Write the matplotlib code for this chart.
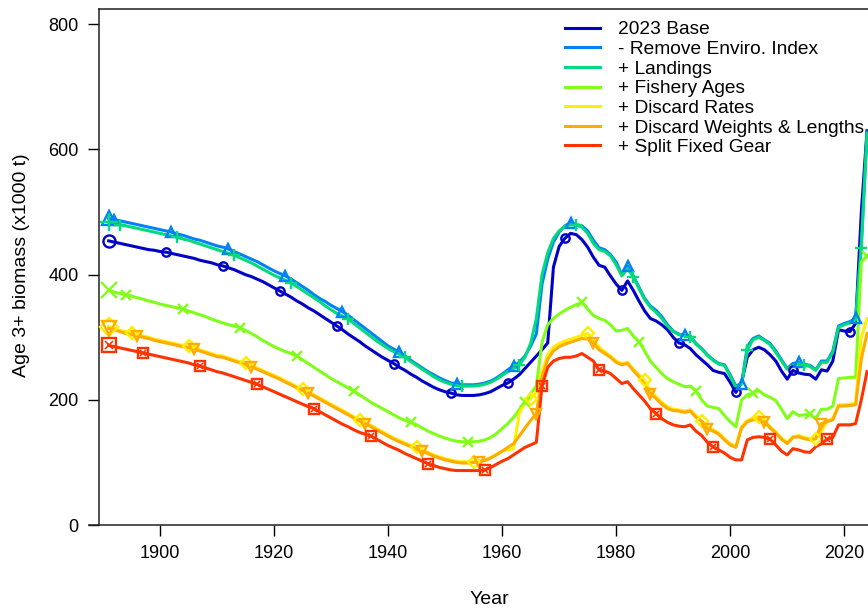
import matplotlib
matplotlib.use("Agg")
import matplotlib.pyplot as plt
import numpy as np

plt.rcParams['font.family'] = ['Liberation Sans', 'DejaVu Sans']

# Age 3+ biomass (x1000 t), one value per year 1891-2024
years = list(range(1891, 2025))

base = [454, 452, 450, 448, 446, 444, 442, 440, 439, 437,
        436, 434, 432, 430, 428, 426, 423, 421, 419, 416,
        414, 411, 408, 404, 400, 397, 393, 389, 384, 379,
        374, 369, 364, 358, 353, 347, 342, 336, 330, 324,
        318, 312, 305, 299, 293, 286, 280, 274, 268, 263,
        258, 252, 247, 241, 236, 230, 225, 220, 216, 213,
        211, 208, 207, 207, 207, 208, 210, 213, 218, 223,
        227, 233, 240, 250, 260, 270, 280, 291, 412, 445,
        458, 466, 464, 456, 444, 428, 415, 412, 398, 385,
        375, 390, 375, 358, 342, 330, 326, 320, 312, 300,
        291, 288, 282, 272, 264, 256, 247, 244, 242, 228,
        212, 228, 268, 280, 284, 280, 272, 262, 246, 233,
        247, 243, 241, 240, 233, 248, 246, 262, 312, 310,
        309, 322, 500, 630]

no_enviro = [490, 488, 486, 484, 482, 480, 478, 476, 474, 472,
             470, 468, 465, 463, 460, 457, 455, 452, 449, 446,
             444, 441, 437, 433, 429, 425, 421, 416, 411, 406,
             402, 398, 393, 387, 381, 375, 368, 362, 357, 351,
             346, 341, 335, 328, 321, 314, 307, 300, 293, 286,
             281, 276, 270, 263, 257, 251, 245, 240, 235, 231,
             227, 226, 224, 224, 224, 225, 227, 230, 235, 241,
             248, 254, 260, 270, 286, 305, 385, 425, 452, 468,
             478, 483, 480, 478, 470, 455, 443, 440, 432, 420,
             400, 414, 398, 380, 362, 350, 343, 333, 320, 310,
             305, 303, 302, 290, 282, 272, 264, 258, 256, 240,
             222, 226, 285, 298, 302, 296, 290, 278, 264, 250,
             258, 260, 257, 255, 248, 262, 262, 278, 318, 322,
             325, 330, 450, 628]

landings = [484, 482, 480, 478, 476, 474, 472, 470, 468, 466,
            464, 462, 460, 457, 455, 452, 449, 446, 443, 440,
            437, 434, 431, 427, 423, 419, 414, 409, 404, 399,
            395, 391, 387, 381, 375, 369, 363, 357, 350, 344,
            338, 334, 329, 322, 315, 308, 301, 294, 288, 282,
            277, 273, 268, 261, 255, 249, 243, 237, 232, 228,
            225, 223, 222, 222, 222, 223, 225, 228, 233, 239,
            245, 250, 256, 268, 290, 330, 400, 435, 458, 470,
            477, 480, 479, 476, 466, 450, 440, 437, 430, 416,
            398, 410, 397, 378, 360, 348, 340, 330, 318, 309,
            304, 302, 301, 289, 281, 271, 263, 257, 255, 238,
            220, 225, 280, 296, 300, 295, 288, 276, 262, 249,
            255, 258, 256, 253, 247, 260, 260, 276, 316, 320,
            323, 328, 443, 625]

fishery_ages = [375, 372, 370, 368, 366, 363, 361, 358, 356, 353,
                351, 349, 347, 345, 342, 339, 336, 333, 329, 326,
                323, 320, 318, 315, 311, 306, 301, 295, 290, 285,
                281, 277, 274, 270, 264, 258, 252, 246, 240, 234,
                229, 224, 219, 214, 208, 202, 196, 191, 186, 181,
                176, 171, 167, 164, 160, 155, 150, 146, 142, 139,
                136, 134, 133, 133, 133, 134, 136, 140, 146, 154,
                162, 172, 184, 197, 210, 222, 292, 320, 330, 337,
                343, 348, 352, 356, 345, 335, 330, 327, 320, 310,
                311, 314, 302, 293, 278, 262, 252, 242, 234, 229,
                225, 221, 222, 214, 200, 190, 188, 186, 175, 165,
                157, 200, 208, 211, 215, 208, 204, 199, 185, 170,
                181, 175, 176, 177, 170, 185, 185, 190, 234, 235,
                236, 236, 420, 430]

discard_rates = [317, 314, 311, 309, 307, 304, 302, 300, 297, 295,
                 293, 291, 289, 287, 286, 283, 280, 277, 274, 271,
                 270, 267, 264, 261, 259, 255, 251, 247, 243, 239,
                 235, 230, 226, 221, 217, 213, 208, 203, 198, 193,
                 188, 183, 178, 173, 168, 164, 159, 154, 149, 144,
                 139, 135, 131, 127, 124, 120, 116, 112, 109, 106,
                 104, 102, 101, 101, 101, 102, 104, 108, 113, 118,
                 120, 122, 178, 195, 202, 212, 245, 272, 284, 290,
                 294, 297, 300, 303, 306, 296, 284, 277, 270, 262,
                 258, 260, 249, 240, 231, 214, 205, 196, 189, 185,
                 184, 182, 184, 175, 166, 157, 152, 147, 138, 130,
                 126, 157, 167, 171, 173, 167, 157, 149, 139, 132,
                 141, 143, 140, 138, 137, 150, 166, 170, 192, 192,
                 193, 194, 300, 330]

discard_weights = [314, 312, 309, 306, 304, 302, 300, 298, 295, 293,
                   291, 289, 287, 285, 283, 281, 278, 275, 272, 269,
                   268, 265, 262, 259, 256, 253, 249, 245, 241, 237,
                   233, 228, 224, 219, 215, 211, 206, 201, 196, 191,
                   186, 181, 176, 171, 166, 162, 157, 152, 147, 142,
                   137, 133, 129, 125, 121, 118, 114, 110, 107, 104,
                   102, 100, 99, 99, 100, 101, 103, 107, 112, 118,
                   124, 130, 142, 155, 167, 178, 236, 265, 278, 285,
                   289, 292, 295, 298, 297, 291, 280, 274, 268, 260,
                   256, 258, 247, 237, 224, 210, 202, 193, 186, 183,
                   182, 180, 182, 172, 166, 154, 150, 145, 136, 128,
                   124, 155, 165, 168, 168, 165, 155, 147, 137, 130,
                   140, 141, 138, 136, 138, 162, 165, 168, 190, 190,
                   191, 192, 265, 306]

split_gear = [287, 285, 283, 281, 279, 277, 275, 273, 271, 269,
              267, 265, 263, 261, 259, 256, 254, 251, 248, 245,
              243, 240, 237, 234, 231, 228, 225, 221, 217, 213,
              209, 205, 201, 197, 193, 189, 186, 181, 176, 171,
              166, 161, 157, 152, 148, 145, 142, 137, 132, 127,
              123, 119, 114, 110, 106, 102, 98, 95, 92, 90,
              88, 87, 87, 87, 87, 87, 88, 92, 97, 102,
              106, 112, 118, 124, 128, 132, 222, 252, 262, 266,
              268, 268, 270, 274, 268, 262, 248, 246, 242, 234,
              226, 229, 218, 208, 198, 186, 178, 170, 164, 160,
              158, 157, 160, 150, 143, 132, 125, 120, 115, 108,
              104, 104, 136, 140, 141, 140, 137, 128, 118, 112,
              122, 120, 117, 116, 125, 130, 137, 140, 160, 160,
              160, 162, 200, 245]

labels = ['2023 Base', '- Remove Enviro. Index', '+ Landings', '+ Fishery Ages',
          '+ Discard Rates', '+ Discard Weights & Lengths', '+ Split Fixed Gear']
series = [base, no_enviro, landings, fishery_ages, discard_rates, discard_weights, split_gear]

colors = ['#0000C6', '#0081F8', '#02DA7D', '#80FE1A', '#FDEE02', '#FFAB00', '#FF3300']
markers = ['o', '^', '+', 'x', 'D', 'v', 's']
msizes = [6, 7, 9, 7.5, 6, 7, 6.5]

fig = plt.figure(figsize=(8.68, 6.11), dpi=100)
ax = fig.add_axes([99 / 868, 86 / 611, (879 - 99) / 868, 516 / 611])

yrs = np.array(years)
for i, (vals, lab) in enumerate(zip(series, labels)):
    vals = np.array(vals, dtype=float)
    c = colors[i]
    ax.plot(yrs, vals, color=c, lw=2.2, label=lab, zorder=2 + i * 0.1)
    # points every 10 years, staggered by one year per model
    idx = np.where((yrs - yrs[0] - i) % 10 == 0)[0]
    idx = idx[idx > 0]
    mk = dict(color=c, ls='none', mfc='none', mew=1.7, zorder=3 + i * 0.1, clip_on=False)
    ax.plot(yrs[idx], vals[idx], marker=markers[i], ms=msizes[i], **mk)
    ax.plot(yrs[:1], vals[:1], marker=markers[i], ms=msizes[i] * 1.45, **mk)
    if markers[i] == 's':
        ax.plot(yrs[idx], vals[idx], marker='x', ms=msizes[i] * 0.6, **dict(mk, mew=1.2))
        ax.plot(yrs[:1], vals[:1], marker='x', ms=msizes[i] * 0.85, **dict(mk, mew=1.2))

ax.set_xlim(1889.3, 2026.1)
ax.set_ylim(0, 824.5)
ax.set_xticks(range(1900, 2021, 20))
ax.set_yticks(range(0, 801, 200))
ax.tick_params(direction='out', length=8, width=1, pad=6.5, labelsize=13, colors='black')
for s in ['left', 'bottom', 'top']:
    ax.spines[s].set_linewidth(1.1)
    ax.spines[s].set_color('#222222')
ax.spines['bottom'].set_bounds(1887.5, 2026.1)

fig.text(22 / 868, 1 - 265 / 611, 'Age 3+ biomass (x1000 t)', rotation=90,
         ha='center', va='center', fontsize=14)
fig.text(489 / 868, 1 - 600 / 611, 'Year', ha='center', va='center', fontsize=14)

leg = ax.legend(loc='upper left', bbox_to_anchor=(565 / 868, 1 - 21 / 611),
                bbox_transform=fig.transFigure, frameon=False, fontsize=13.8,
                handlelength=1.83, handletextpad=0.94, labelspacing=0.115,
                borderpad=0, borderaxespad=0)
for h in leg.get_lines():
    h.set_linewidth(2.2)

fig.savefig('out.png', dpi=100)
